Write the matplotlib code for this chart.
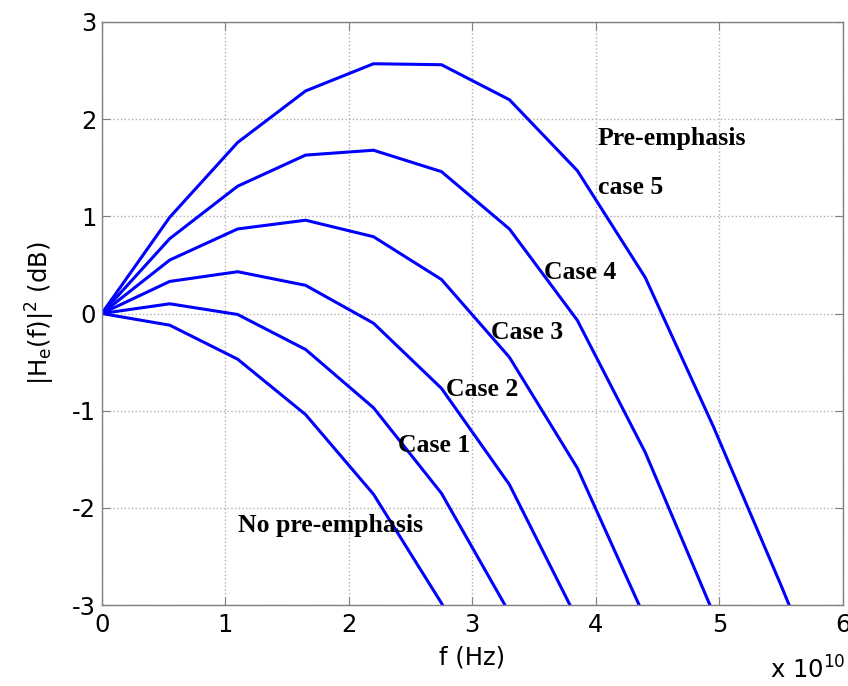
import matplotlib
matplotlib.use('Agg')
import matplotlib.pyplot as plt
from matplotlib.ticker import FuncFormatter

# sample frequencies (Hz)
freq = [0, 0.55e10, 1.1e10, 1.65e10, 2.2e10, 2.75e10, 3.3e10,
        3.85e10, 4.4e10, 4.95e10, 5.5e10, 6.05e10]

# |He(f)|^2 in dB, one list per case (values past -3 are clipped by the axes)
no_pre = [0, -0.12, -0.47, -1.04, -1.86, -2.98, -4.2]
case1 = [0, 0.10, -0.01, -0.37, -0.97, -1.85, -3.08, -4.4]
case2 = [0, 0.33, 0.43, 0.29, -0.10, -0.77, -1.76, -3.15, -4.6]
case3 = [0, 0.55, 0.87, 0.96, 0.79, 0.35, -0.45, -1.59, -3.14, -4.8]
case4 = [0, 0.77, 1.31, 1.63, 1.68, 1.46, 0.87, -0.07, -1.43, -3.08, -4.8]
case5 = [0, 0.99, 1.76, 2.29, 2.57, 2.56, 2.20, 1.47, 0.37, -1.16, -2.80, -4.5]

curves = [no_pre, case1, case2, case3, case4, case5]

# curve labels and where they sit (x in Hz, y in dB)
labels = ['No pre-emphasis', 'Case 1', 'Case 2', 'Case 3', 'Case 4',
          'Pre-emphasis', 'case 5']
label_x = [1.1e10, 2.4e10, 2.785e10, 3.15e10, 3.58e10, 4.015e10, 4.015e10]
label_y = [-2.18, -1.36, -0.78, -0.20, 0.42, 1.80, 1.30]

plt.rcParams['font.family'] = ['DejaVu Sans']
plt.rcParams['mathtext.default'] = 'regular'
plt.rcParams['axes.unicode_minus'] = False

fig = plt.figure(figsize=(8.48, 6.86), dpi=100)
ax = fig.add_axes([0.12, 0.118, 0.874, 0.85])

for vals in curves:
    ax.plot(freq[:len(vals)], vals, color='#0000ff', lw=2.2)

for txt, x, y in zip(labels, label_x, label_y):
    ax.text(x, y, txt, family='Liberation Serif', fontweight='bold',
            fontsize=18.5, ha='left', va='center', color='black')

ax.set_xlim(0, 6e10)
ax.set_ylim(-3, 3)
ax.set_xticks([0, 1e10, 2e10, 3e10, 4e10, 5e10, 6e10])
ax.set_yticks([-3, -2, -1, 0, 1, 2, 3])
ax.xaxis.set_major_formatter(FuncFormatter(lambda v, p: '%d' % round(v / 1e10)))
ax.grid(True, linestyle=':', color='#b0b0b0', lw=1.0)
ax.tick_params(direction='in', length=6, color='#808080', labelsize=17.5,
               top=True, right=True)
ax.tick_params(axis='x', pad=6)
ax.tick_params(axis='y', pad=4)
for sp in ax.spines.values():
    sp.set_color('#808080')
    sp.set_linewidth(1.0)

ax.set_xlabel('f (Hz)', fontsize=17.5, labelpad=6)
ax.set_ylabel('|H$_e$(f)|$^2$ (dB)', fontsize=17.5, labelpad=11)
fig.text(0.997, 1 - 670 / 686, 'x 10$^{10}$', fontsize=17.5,
         ha='right', va='center')

fig.savefig('out.png', dpi=100)
